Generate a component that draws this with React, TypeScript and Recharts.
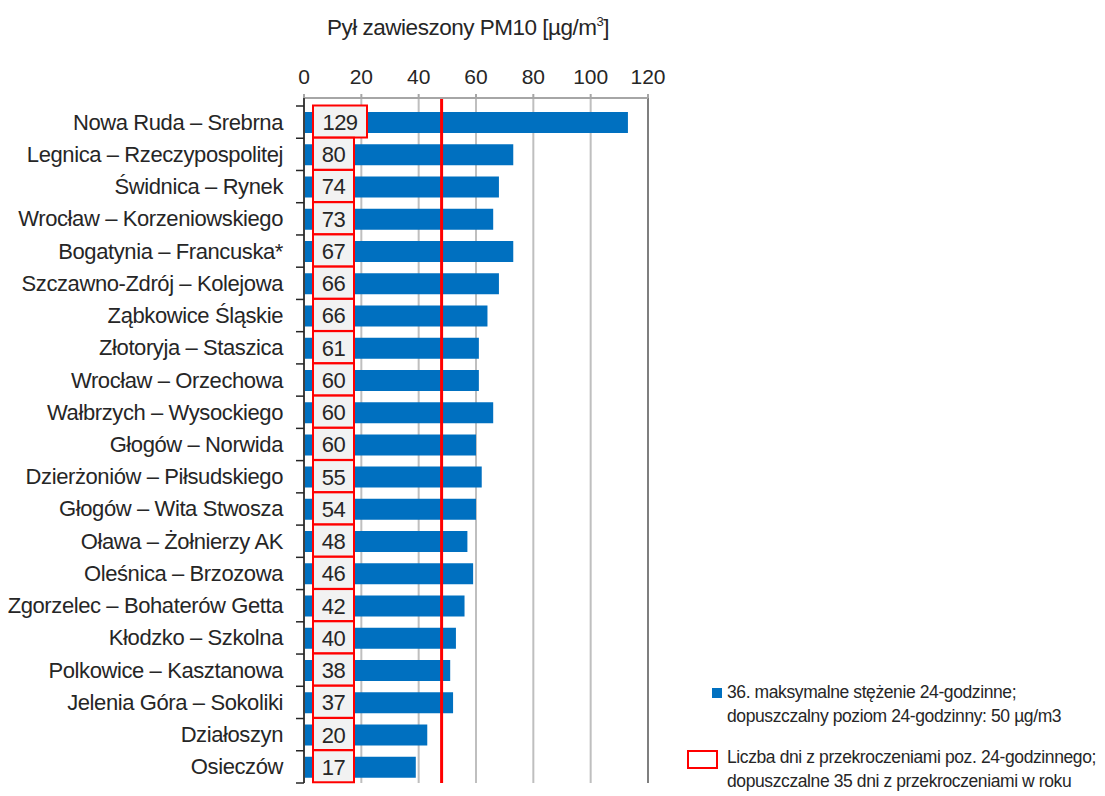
import { BarChart, Bar, XAxis, YAxis, CartesianGrid, ReferenceLine, LabelList } from "recharts";

const stations = [
  "Nowa Ruda – Srebrna",
  "Legnica – Rzeczypospolitej",
  "Świdnica – Rynek",
  "Wrocław – Korzeniowskiego",
  "Bogatynia – Francuska*",
  "Szczawno-Zdrój – Kolejowa",
  "Ząbkowice Śląskie",
  "Złotoryja – Staszica",
  "Wrocław – Orzechowa",
  "Wałbrzych – Wysockiego",
  "Głogów – Norwida",
  "Dzierżoniów – Piłsudskiego",
  "Głogów – Wita Stwosza",
  "Oława – Żołnierzy AK",
  "Oleśnica – Brzozowa",
  "Zgorzelec – Bohaterów Getta",
  "Kłodzko – Szkolna",
  "Polkowice – Kasztanowa",
  "Jelenia Góra – Sokoliki",
  "Działoszyn",
  "Osieczów",
];

// 36. maksymalne stężenie 24-godzinne [µg/m3]
const pm10Max36 = [113, 73, 68, 66, 73, 68, 64, 61, 61, 66, 60, 62, 60, 57, 59, 56, 53, 51, 52, 43, 39];

// liczba dni z przekroczeniami
const exceedDays = [129, 80, 74, 73, 67, 66, 66, 61, 60, 60, 60, 55, 54, 48, 46, 42, 40, 38, 37, 20, 17];

const xTicks = [0, 20, 40, 60, 80, 100, 120];
const limitLine = 48;

const data = stations.map((name, i) => ({
  name,
  pm10: pm10Max36[i],
  days: exceedDays[i],
}));

const FONT = '"Liberation Sans", Arial, sans-serif';
const BLUE = "#0070C0";
const RED = "#FF0000";

const CategoryTick = (props: any) => {
  const { x, y, payload, index } = props;
  const half = payload?.offset ?? 16;
  return (
    <g>
      <text
        x={x}
        y={y}
        textAnchor="end"
        dominantBaseline="central"
        fill="#262626"
        fontSize={22}
        fontFamily={FONT}
        letterSpacing={-0.4}
      >
        {payload.value}
      </text>
      {index === 0 && (
        <line x1={x + 13} x2={x + 21} y1={y - half} y2={y - half} stroke="#262626" strokeWidth={1.5} />
      )}
      <line x1={x + 13} x2={x + 21} y1={y + half} y2={y + half} stroke="#262626" strokeWidth={1.5} />
    </g>
  );
};

const DaysBox = (props: any) => {
  const { x, y, height, value } = props;
  const w = String(value).length > 2 ? 54 : 41;
  const boxH = 32;
  const top = y + height / 2 - boxH / 2 - 1;
  return (
    <g>
      <rect x={x + 9} y={top} width={w} height={boxH} fill="#F2F2F2" stroke={RED} strokeWidth={2} />
      <text
        x={x + 9 + w / 2}
        y={top + boxH / 2 + 1}
        textAnchor="middle"
        dominantBaseline="central"
        fill="#262626"
        fontSize={22}
        fontFamily={FONT}
        letterSpacing={-0.5}
      >
        {value}
      </text>
    </g>
  );
};

export default function App() {
  return (
    <div style={{ position: "absolute", left: 0, top: 0, width: 1105, height: 796, background: "#fff", fontFamily: FONT }}>
      <div
        style={{
          position: "absolute",
          left: 268,
          width: 400,
          top: 14,
          textAlign: "center",
          fontSize: 22.5,
          color: "#262626",
          letterSpacing: -0.5,
        }}
      >
        Pył zawieszony PM10 [µg/m<sup style={{ fontSize: 13 }}>3</sup>]
      </div>

      <BarChart
        width={1105}
        height={796}
        data={data}
        layout="vertical"
        margin={{ top: 68, right: 457, bottom: 13, left: 14 }}
        barSize={21}
      >
        <CartesianGrid horizontal={false} stroke="#BFBFBF" strokeWidth={2} />
        <XAxis
          type="number"
          orientation="top"
          domain={[0, 120]}
          ticks={xTicks}
          interval={0}
          height={30}
          axisLine={{ stroke: "#A6A6A6", strokeWidth: 2 }}
          tickLine={{ stroke: "#A6A6A6", strokeWidth: 2 }}
          tickSize={4}
          tickMargin={10}
          tick={{ fill: "#262626", fontSize: 21, fontFamily: FONT }}
        />
        <XAxis
          xAxisId="bottom"
          type="number"
          orientation="bottom"
          domain={[0, 120]}
          height={0}
          tick={false}
          tickLine={false}
          axisLine={{ stroke: "#A6A6A6", strokeWidth: 2 }}
        />
        <YAxis
          type="category"
          dataKey="name"
          width={290}
          padding={{ top: 8, bottom: 0 }}
          axisLine={{ stroke: "#404040", strokeWidth: 2 }}
          tickLine={false}
          tickSize={0}
          tickMargin={21}
          interval={0}
          tick={<CategoryTick />}
        />
        <Bar dataKey="pm10" fill={BLUE} isAnimationActive={false}>
          <LabelList dataKey="days" content={<DaysBox />} />
        </Bar>
        <ReferenceLine x={120} stroke="#7F7F7F" strokeWidth={2} />
        <ReferenceLine x={limitLine} stroke={RED} strokeWidth={3} />
      </BarChart>

      <div style={{ position: "absolute", left: 712, top: 688, width: 10, height: 10, background: BLUE }} />
      <div
        style={{
          position: "absolute",
          left: 727,
          top: 680,
          fontSize: 17.5,
          lineHeight: "24px",
          color: "#262626",
          letterSpacing: -0.4,
          whiteSpace: "nowrap",
        }}
      >
        36. maksymalne stężenie 24-godzinne;
        <br />
        dopuszczalny poziom 24-godzinny: 50 µg/m3
      </div>
      <div
        style={{
          position: "absolute",
          left: 687,
          top: 750,
          width: 31,
          height: 19,
          border: `2px solid ${RED}`,
          boxSizing: "border-box",
        }}
      />
      <div
        style={{
          position: "absolute",
          left: 727,
          top: 745,
          fontSize: 17.5,
          lineHeight: "24px",
          color: "#262626",
          letterSpacing: -0.4,
          whiteSpace: "nowrap",
        }}
      >
        Liczba dni z przekroczeniami poz. 24-godzinnego;
        <br />
        dopuszczalne 35 dni z przekroczeniami w roku
      </div>
    </div>
  );
}
